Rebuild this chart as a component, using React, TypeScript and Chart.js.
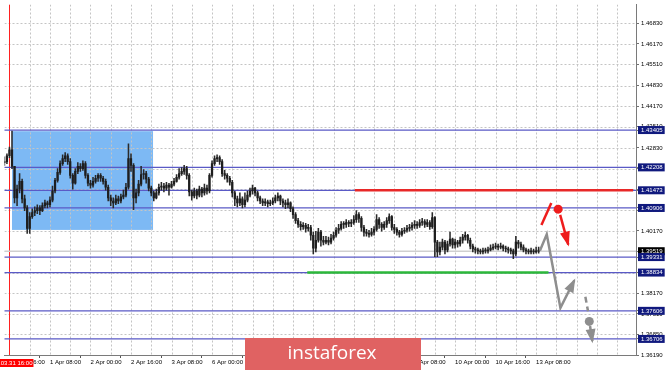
import React, { useEffect, useRef } from 'react';
import { Chart, registerables } from 'chart.js';

Chart.register(...registerables);

// ---- Candles (H1), first candle index is -2 (31 Mar 16:00 = index 0) ----
const firstIndex = -2;
const firstOpen = 1.4236;
const closes = [
  1.4239, 1.4258, 1.4277, 1.4224, 1.4123, 1.4151, 1.4176, 1.4120, 1.4091, 1.4025,
  1.4063, 1.4076, 1.4082, 1.4091, 1.4082, 1.4098, 1.4107, 1.4101, 1.4116, 1.4145,
  1.4179, 1.4205, 1.4233, 1.4249, 1.4258, 1.4239, 1.4195, 1.4170, 1.4208, 1.4224,
  1.4217, 1.4233, 1.4195, 1.4170, 1.4164, 1.4176, 1.4186, 1.4195, 1.4186, 1.4176,
  1.4157, 1.4123, 1.4113, 1.4107, 1.4120, 1.4113, 1.4126, 1.4132, 1.4157, 1.4249,
  1.4227, 1.4123, 1.4139, 1.4167, 1.4198, 1.4201, 1.4183, 1.4154, 1.4139, 1.4123,
  1.4139, 1.4157, 1.4161, 1.4154, 1.4164, 1.4157, 1.4167, 1.4176, 1.4189, 1.4201,
  1.4208, 1.4217, 1.4195, 1.4142, 1.4129, 1.4145, 1.4132, 1.4151, 1.4139, 1.4154,
  1.4145, 1.4195, 1.4233, 1.4249, 1.4252, 1.4239, 1.4201, 1.4195, 1.4186, 1.4173,
  1.4139, 1.4120, 1.4107, 1.4120, 1.4101, 1.4116, 1.4132, 1.4145, 1.4154, 1.4139,
  1.4123, 1.4113, 1.4107, 1.4110, 1.4104, 1.4107, 1.4113, 1.4123, 1.4129, 1.4113,
  1.4107, 1.4101, 1.4107, 1.4088, 1.4069, 1.4050, 1.4038, 1.4031, 1.4035, 1.4025,
  1.4028, 1.4003, 1.3962, 1.3987, 1.4013, 1.3987, 1.3981, 1.3987, 1.3981, 1.3994,
  1.4003, 1.4019, 1.4025, 1.4038, 1.4038, 1.4044, 1.4041, 1.4044, 1.4053, 1.4069,
  1.4057, 1.4028, 1.4013, 1.4009, 1.4006, 1.4013, 1.4022, 1.4053, 1.4038, 1.4028,
  1.4038, 1.4050, 1.4063, 1.4028, 1.4022, 1.4013, 1.4006, 1.4016, 1.4019, 1.4025,
  1.4028, 1.4035, 1.4038, 1.4035, 1.4044, 1.4047, 1.4038, 1.4044, 1.4031, 1.4060,
  1.3981, 1.3950, 1.3965, 1.3981, 1.3956, 1.3975, 1.3991, 1.3972, 1.3981, 1.3975,
  1.3987, 1.3997, 1.4003, 1.3987, 1.3968, 1.3959, 1.3956, 1.3953, 1.3950, 1.3953,
  1.3953, 1.3956, 1.3962, 1.3965, 1.3968, 1.3965, 1.3968, 1.3962, 1.3959, 1.3956,
  1.3953, 1.3943, 1.3981, 1.3975, 1.3965, 1.3956, 1.3953, 1.3950, 1.3953, 1.3950,
  1.3953, 1.3952,
];
const highs = [
  1.4255, 1.4264, 1.4286, 1.4337, 1.4224, 1.4164, 1.4201, 1.4183, 1.4132, 1.4098,
  1.4076, 1.4088, 1.4094, 1.4101, 1.4098, 1.4107, 1.4116, 1.4113, 1.4126, 1.4161,
  1.4186, 1.4217, 1.4242, 1.4261, 1.4268, 1.4264, 1.4249, 1.4201, 1.4217, 1.4236,
  1.4233, 1.4242, 1.4239, 1.4201, 1.4179, 1.4189, 1.4195, 1.4201, 1.4201, 1.4192,
  1.4183, 1.4164, 1.4132, 1.4123, 1.4132, 1.4129, 1.4135, 1.4148, 1.4170, 1.4296,
  1.4264, 1.4233, 1.4151, 1.4179, 1.4224, 1.4214, 1.4208, 1.4189, 1.4161, 1.4145,
  1.4151, 1.4167, 1.4173, 1.4170, 1.4173, 1.4170, 1.4176, 1.4186, 1.4198, 1.4217,
  1.4220, 1.4227, 1.4224, 1.4201, 1.4148, 1.4154, 1.4151, 1.4161, 1.4157, 1.4167,
  1.4164, 1.4201, 1.4242, 1.4258, 1.4261, 1.4258, 1.4246, 1.4211, 1.4201, 1.4192,
  1.4179, 1.4145, 1.4129, 1.4139, 1.4126, 1.4139, 1.4145, 1.4154, 1.4164, 1.4157,
  1.4145, 1.4129, 1.4120, 1.4120, 1.4116, 1.4116, 1.4123, 1.4132, 1.4139, 1.4132,
  1.4120, 1.4116, 1.4120, 1.4110, 1.4094, 1.4076, 1.4057, 1.4047, 1.4044, 1.4041,
  1.4038, 1.4035, 1.4013, 1.4016, 1.4025, 1.4019, 1.4000, 1.4000, 1.3997, 1.4006,
  1.4013, 1.4028, 1.4038, 1.4047, 1.4047, 1.4053, 1.4050, 1.4053, 1.4066, 1.4082,
  1.4076, 1.4063, 1.4035, 1.4022, 1.4019, 1.4025, 1.4031, 1.4069, 1.4060, 1.4044,
  1.4047, 1.4060, 1.4072, 1.4066, 1.4038, 1.4028, 1.4019, 1.4025, 1.4028, 1.4035,
  1.4038, 1.4044, 1.4050, 1.4047, 1.4053, 1.4057, 1.4053, 1.4053, 1.4050, 1.4076,
  1.4063, 1.3987, 1.3981, 1.3991, 1.3987, 1.3984, 1.4013, 1.3994, 1.3991, 1.3987,
  1.3997, 1.4006, 1.4013, 1.4006, 1.3994, 1.3975, 1.3965, 1.3962, 1.3959, 1.3962,
  1.3962, 1.3965, 1.3972, 1.3975, 1.3978, 1.3975, 1.3978, 1.3972, 1.3968, 1.3965,
  1.3962, 1.3959, 1.4000, 1.3987, 1.3981, 1.3972, 1.3962, 1.3959, 1.3962, 1.3959,
  1.3965, 1.3965,
];
const lows = [
  1.4227, 1.4233, 1.4252, 1.4217, 1.4107, 1.4098, 1.4139, 1.4107, 1.4082, 1.4009,
  1.4009, 1.4057, 1.4066, 1.4072, 1.4069, 1.4079, 1.4091, 1.4091, 1.4094, 1.4110,
  1.4139, 1.4173, 1.4198, 1.4227, 1.4239, 1.4230, 1.4186, 1.4151, 1.4167, 1.4201,
  1.4208, 1.4211, 1.4186, 1.4161, 1.4154, 1.4157, 1.4170, 1.4176, 1.4176, 1.4167,
  1.4148, 1.4113, 1.4098, 1.4091, 1.4101, 1.4104, 1.4107, 1.4120, 1.4126, 1.4151,
  1.4208, 1.4085, 1.4107, 1.4129, 1.4161, 1.4183, 1.4170, 1.4145, 1.4129, 1.4113,
  1.4120, 1.4132, 1.4148, 1.4142, 1.4148, 1.4132, 1.4154, 1.4161, 1.4173, 1.4183,
  1.4195, 1.4198, 1.4183, 1.4129, 1.4116, 1.4123, 1.4120, 1.4126, 1.4126, 1.4132,
  1.4135, 1.4139, 1.4189, 1.4227, 1.4239, 1.4230, 1.4192, 1.4183, 1.4173, 1.4164,
  1.4126, 1.4098, 1.4094, 1.4098, 1.4091, 1.4094, 1.4110, 1.4126, 1.4135, 1.4129,
  1.4113, 1.4104, 1.4098, 1.4098, 1.4094, 1.4098, 1.4101, 1.4107, 1.4113, 1.4101,
  1.4094, 1.4088, 1.4091, 1.4079, 1.4057, 1.4041, 1.4028, 1.4019, 1.4022, 1.4013,
  1.4016, 1.3987, 1.3943, 1.3950, 1.3981, 1.3968, 1.3972, 1.3975, 1.3972, 1.3975,
  1.3987, 1.3997, 1.4009, 1.4019, 1.4025, 1.4028, 1.4031, 1.4031, 1.4038, 1.4044,
  1.4044, 1.4016, 1.4000, 1.4000, 1.3997, 1.4000, 1.4003, 1.4016, 1.4025, 1.4016,
  1.4022, 1.4028, 1.4041, 1.4019, 1.4009, 1.4003, 1.3997, 1.4000, 1.4009, 1.4013,
  1.4016, 1.4019, 1.4025, 1.4025, 1.4028, 1.4035, 1.4028, 1.4031, 1.4022, 1.4025,
  1.3934, 1.3934, 1.3940, 1.3956, 1.3943, 1.3950, 1.3968, 1.3962, 1.3962, 1.3965,
  1.3968, 1.3978, 1.3987, 1.3978, 1.3959, 1.3950, 1.3946, 1.3943, 1.3943, 1.3943,
  1.3946, 1.3946, 1.3953, 1.3956, 1.3959, 1.3956, 1.3959, 1.3953, 1.3950, 1.3946,
  1.3943, 1.3928, 1.3937, 1.3962, 1.3956, 1.3950, 1.3943, 1.3943, 1.3943, 1.3943,
  1.3946, 1.3946,
];

// ---- Axes ----
const xMin = -1.96;
const xMax = 247.45;
const yMin = 1.3619;
const yMax = 1.47432;
const gridPrices = [1.4683, 1.4617, 1.4551, 1.4483, 1.4417, 1.4351, 1.4283, 1.4217, 1.4151, 1.4083, 1.4017, 1.3951, 1.3883, 1.3817, 1.3751, 1.3685, 1.3619];
const gridIndices = [0, 8, 16, 24, 32, 40, 48, 56, 64, 72, 80, 88, 96, 104, 112, 120, 128, 136, 144, 152, 160, 168, 176, 184, 192, 200, 208, 216, 224, 232, 240];
const labelIndices = [0, 16, 32, 48, 64, 80, 96, 112, 128, 144, 160, 176, 192, 208];
const timeLabels = ['31 Mar 16:00', '1 Apr 08:00', '2 Apr 00:00', '2 Apr 16:00', '3 Apr 08:00', '6 Apr 00:00', '6 Apr 16:00', '7 Apr 08:00', '8 Apr 00:00', '8 Apr 16:00', '9 Apr 08:00', '10 Apr 00:00', '10 Apr 16:00', '13 Apr 08:00'];
const separatorIndex = 0;
const separatorLabel = '2020.03.31 16:00';

// ---- Levels & objects ----
const levelPrices = [1.43405, 1.42208, 1.41473, 1.40906, 1.39331, 1.38834, 1.37606, 1.36706];
const currentPrice = 1.39519;
const selectionX = [1.0, 56.7];
const selectionY = [1.40202, 1.43369];
const resistanceSegment = [{ x: 136.4, y: 1.41473 }, { x: 246.3, y: 1.41473 }];
const supportSegment = [{ x: 117.6, y: 1.38834 }, { x: 212.9, y: 1.38834 }];
const redStroke = [{ x: 210.1, y: 1.40361 }, { x: 214.0, y: 1.41067 }];
const redDot = [{ x: 216.7, y: 1.40867 }];
const redArrow = [{ x: 217.5, y: 1.40686 }, { x: 220.7, y: 1.39728 }];
const grayPath = [{ x: 209.5, y: 1.39537 }, { x: 212.2, y: 1.40063 }, { x: 217.6, y: 1.37701 }, { x: 223.1, y: 1.38587 }];
const grayDash = [{ x: 227.45, y: 1.38059 }, { x: 228.5, y: 1.37593 }];
const grayDot = [{ x: 229.0, y: 1.37267 }];
const grayArrow = [{ x: 229.3, y: 1.3712 }, { x: 230.2, y: 1.36633 }];

const FONT = 'Liberation Sans, Arial, sans-serif';

const backgroundPlugin = {
  id: 'mt4background',
  beforeDatasetsDraw(chart: any) {
    const { ctx, chartArea: a, scales } = chart;
    const xs = scales.x, ys = scales.y;
    ctx.save();
    ctx.beginPath();
    ctx.rect(a.left, a.top, a.right - a.left, a.bottom - a.top);
    ctx.clip();
    const rx0 = xs.getPixelForValue(selectionX[0]);
    const rx1 = xs.getPixelForValue(selectionX[1]);
    const ry0 = ys.getPixelForValue(selectionY[1]);
    const ry1 = ys.getPixelForValue(selectionY[0]);
    ctx.fillStyle = '#7db9f4';
    ctx.fillRect(rx0, ry0, rx1 - rx0, ry1 - ry0);
    ctx.strokeStyle = '#c4c4c4';
    ctx.lineWidth = 1;
    ctx.setLineDash([2, 2]);
    gridPrices.forEach((p) => {
      const y = Math.round(ys.getPixelForValue(p)) + 0.5;
      ctx.beginPath();
      ctx.moveTo(a.left, y);
      ctx.lineTo(a.right, y);
      ctx.stroke();
    });
    gridIndices.forEach((i) => {
      const x = Math.round(xs.getPixelForValue(i)) + 0.5;
      ctx.beginPath();
      ctx.moveTo(x, a.top);
      ctx.lineTo(x, a.bottom);
      ctx.stroke();
    });
    ctx.setLineDash([]);
    const sx = Math.round(xs.getPixelForValue(separatorIndex)) + 0.5;
    ctx.strokeStyle = '#ff2020';
    ctx.beginPath();
    ctx.moveTo(sx, a.top);
    ctx.lineTo(sx, a.bottom);
    ctx.stroke();
    ctx.restore();
  },
};

const arrowPlugin = {
  id: 'arrowHeads',
  afterDatasetsDraw(chart: any) {
    const { ctx } = chart;
    chart.data.datasets.forEach((ds: any, i: number) => {
      if (!ds.arrowHead) return;
      const pts = chart.getDatasetMeta(i).data;
      const n = pts.length;
      const a = pts[n - 2], b = pts[n - 1];
      const ang = Math.atan2(b.y - a.y, b.x - a.x);
      const L = ds.arrowHead.len, W = ds.arrowHead.width / 2;
      const c = Math.cos(ang), s = Math.sin(ang);
      ctx.save();
      ctx.fillStyle = ds.borderColor;
      ctx.beginPath();
      ctx.moveTo(b.x + c * 2, b.y + s * 2);
      ctx.lineTo(b.x - L * c + W * s, b.y - L * s - W * c);
      ctx.lineTo(b.x - L * c - W * s, b.y - L * s + W * c);
      ctx.closePath();
      ctx.fill();
      ctx.restore();
    });
  },
};

const overlayPlugin = {
  id: 'overlay',
  afterDraw(chart: any) {
    const { ctx, scales } = chart;
    const xs = scales.x;
    const bottom = chart.chartArea.bottom;
    ctx.save();
    const px = xs.getPixelForValue(separatorIndex);
    ctx.fillStyle = '#ff0000';
    ctx.fillRect(px - 40, bottom + 4, 64, 8);
    ctx.fillStyle = '#ffffff';
    ctx.font = `6px ${FONT}`;
    ctx.textAlign = 'right';
    ctx.textBaseline = 'middle';
    ctx.fillText(separatorLabel, px + 23, bottom + 8.5);
    ctx.fillStyle = '#e06262';
    ctx.fillRect(245, 338, 176, 32);
    ctx.fillStyle = '#ffffff';
    ctx.font = `19px "Open Sans", ${FONT}`;
    ctx.textAlign = 'center';
    ctx.textBaseline = 'middle';
    ctx.fillText('instaforex', 332, 354);
    ctx.restore();
  },
};

const isLevel = (v: number) => levelPrices.includes(v) || v === currentPrice;

export default function App() {
  const ref = useRef<HTMLCanvasElement | null>(null);
  useEffect(() => {
    document.body.style.margin = '0';
    const canvas = ref.current;
    if (!canvas) return;
    const opens = closes.map((c, k) => (k === 0 ? firstOpen : closes[k - 1]));
    const wickData = closes.map((c, k) => ({
      x: firstIndex + k,
      y: [Math.min(lows[k], opens[k], c), Math.max(highs[k], opens[k], c)],
    }));
    const bodyData = closes.map((c, k) => ({ x: firstIndex + k, y: [opens[k], c] }));
    const levelSets = levelPrices.map((p) => ({
      type: 'line',
      data: [{ x: xMin - 2, y: p }, { x: xMax + 2, y: p }],
      borderColor: '#5a5ac6',
      borderWidth: 1.2,
      pointRadius: 0,
      order: 8,
    }));
    const line = (data: any, color: string, width: number, order: number, extra: any = {}) => ({
      type: 'line',
      data,
      borderColor: color,
      backgroundColor: color,
      borderWidth: width,
      pointRadius: 0,
      tension: 0,
      order,
      ...extra,
    });
    const dot = (data: any, color: string, r: number) => ({
      type: 'line',
      data,
      showLine: false,
      pointRadius: r,
      pointBackgroundColor: color,
      pointBorderWidth: 0,
      borderColor: color,
      order: 0,
    });
    const chart = new Chart(canvas, {
      type: 'bar',
      data: {
        datasets: [
          line(redStroke, '#ee1c1c', 2.5, 0),
          dot(redDot, '#ee1c1c', 4.5),
          line(redArrow, '#ee1c1c', 2.5, 0, { arrowHead: { len: 13, width: 10 } }),
          line(grayPath, '#8e8e8e', 2.5, 0, { arrowHead: { len: 12, width: 10 } }),
          line(grayDash, '#8e8e8e', 2.5, 0, { borderDash: [6, 4] }),
          dot(grayDot, '#8e8e8e', 4.5),
          line(grayArrow, '#8e8e8e', 2.5, 0, { arrowHead: { len: 12, width: 10 } }),
          {
            type: 'bar',
            data: bodyData,
            backgroundColor: '#1e1e1e',
            barThickness: 1.6,
            minBarLength: 1,
            grouped: false,
            order: 2,
          },
          {
            type: 'bar',
            data: wickData,
            backgroundColor: '#2a2a2a',
            barThickness: 0.9,
            minBarLength: 1,
            grouped: false,
            order: 3,
          },
          line(resistanceSegment, '#e82828', 2.5, 5),
          line(supportSegment, '#2cb83a', 2.5, 5),
          ...levelSets,
          line([{ x: xMin - 2, y: currentPrice }, { x: xMax + 2, y: currentPrice }], '#cfcfcf', 1.5, 9),
        ] as any,
      },
      options: {
        animation: false,
        responsive: false,
        events: [],
        layout: { padding: 0 },
        plugins: { legend: { display: false }, tooltip: { enabled: false } },
        scales: {
          x: {
            type: 'linear',
            min: xMin,
            max: xMax,
            offset: false,
            afterBuildTicks: (s: any) => {
              s.ticks = gridIndices.map((v) => ({ value: v }));
            },
            afterFit: (s: any) => {
              s.height = 15;
              s.paddingLeft = 0;
              s.paddingRight = 0;
            },
            grid: {
              drawOnChartArea: false,
              drawTicks: true,
              tickLength: 3,
              tickWidth: 1,
              tickColor: (c: any) => (c.tick && labelIndices.includes(c.tick.value) ? '#555555' : 'rgba(0,0,0,0)'),
            },
            border: { display: true, color: '#7a7a7a', width: 1 },
            ticks: {
              autoSkip: false,
              maxRotation: 0,
              minRotation: 0,
              align: 'start',
              padding: 1,
              color: '#000000',
              font: { family: FONT, size: 6 },
              callback: (v: any) => {
                const k = labelIndices.indexOf(Number(v));
                return k >= 0 ? timeLabels[k] : '';
              },
            },
          },
          y: {
            type: 'linear',
            position: 'right',
            min: yMin,
            max: yMax,
            afterBuildTicks: (s: any) => {
              s.ticks = [...gridPrices, currentPrice, ...levelPrices].map((v) => ({ value: v }));
            },
            afterFit: (s: any) => {
              s.width = 29;
              s.paddingTop = 0;
              s.paddingBottom = 0;
            },
            grid: { drawOnChartArea: false, drawTicks: true, tickLength: 3, tickColor: '#707070', tickWidth: 1 },
            border: { display: true, color: '#7a7a7a', width: 1 },
            ticks: {
              autoSkip: false,
              padding: 2,
              font: { family: FONT, size: 6, lineHeight: 1 },
              color: (c: any) => (c.tick && isLevel(c.tick.value) ? '#ffffff' : '#000000'),
              showLabelBackdrop: (c: any) => !!(c.tick && isLevel(c.tick.value)),
              backdropColor: (c: any) => (c.tick && c.tick.value === currentPrice ? '#000000' : '#10197e'),
              backdropPadding: { left: 3, right: 2, top: 1, bottom: 1 },
              callback: (v: any) => Number(v).toFixed(5),
            },
          },
        },
      } as any,
      plugins: [backgroundPlugin, arrowPlugin, overlayPlugin],
    });
    return () => chart.destroy();
  }, []);
  return (
    <div style={{ position: 'absolute', left: 0, top: 0, width: 665, height: 370, background: '#ffffff' }}>
      <canvas ref={ref} width={665} height={370} style={{ display: 'block' }} />
    </div>
  );
}
